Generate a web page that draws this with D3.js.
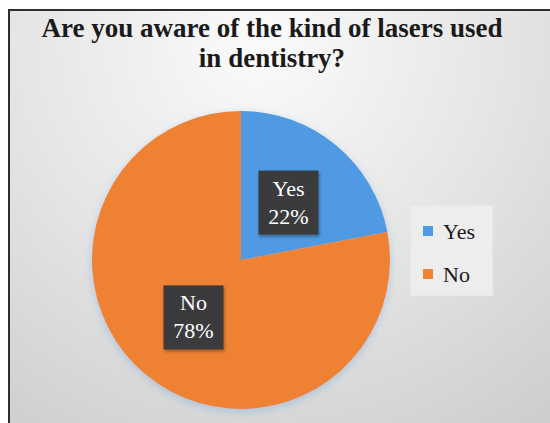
<!DOCTYPE html>
<html>
<head>
<meta charset="utf-8">
<script src="https://cdn.jsdelivr.net/npm/d3@7"></script>
<style>
  html, body { margin: 0; padding: 0; background: #ffffff; }
  svg { display: block; }
  .serif { font-family: "Liberation Serif", Tinos, "Times New Roman", Times, "DejaVu Serif", serif; }
</style>
</head>
<body>
<svg id="chart" width="550" height="423"></svg>
<script>
// Survey answers
const categories = ["Yes", "No"];
const values = [22, 78];
const colors = ["#4F9AE2", "#EF8131"];
const titleLines = ["Are you aware of the kind of lasers used", "in dentistry?"];

const svg = d3.select("#chart");
const defs = svg.append("defs");

// Chart-area background: soft radial grey
const bg = defs.append("radialGradient")
  .attr("id", "bgGrad")
  .attr("gradientUnits", "userSpaceOnUse")
  .attr("cx", 260).attr("cy", 40).attr("r", 520);
bg.append("stop").attr("offset", "0%").attr("stop-color", "#fbfbfb");
bg.append("stop").attr("offset", "45%").attr("stop-color", "#e6e6e6");
bg.append("stop").attr("offset", "100%").attr("stop-color", "#c9c9c9");

const shadow = defs.append("filter").attr("id", "pieShadow")
  .attr("x", "-20%").attr("y", "-20%").attr("width", "140%").attr("height", "140%");
shadow.append("feDropShadow").attr("dx", 0).attr("dy", 3).attr("stdDeviation", 4)
  .attr("flood-color", "#8fb5d8").attr("flood-opacity", 0.6);

const boxShadow = defs.append("filter").attr("id", "boxShadow")
  .attr("x", "-20%").attr("y", "-20%").attr("width", "140%").attr("height", "140%");
boxShadow.append("feDropShadow").attr("dx", 1).attr("dy", 2).attr("stdDeviation", 1.5)
  .attr("flood-color", "#000").attr("flood-opacity", 0.35);

// Frame
svg.append("rect").attr("x", 9).attr("y", 10)
  .attr("width", 570).attr("height", 440)
  .attr("fill", "url(#bgGrad)")
  .attr("stroke", "#2e2e2e").attr("stroke-width", 2);

// Title
const title = svg.append("text")
  .attr("class", "serif")
  .attr("text-anchor", "middle")
  .attr("font-weight", "bold")
  .attr("font-size", 27)
  .attr("fill", "#1a1a1a");
titleLines.forEach((t, i) => {
  title.append("tspan").attr("x", 272).attr("y", 37 + i * 30).text(t);
});

// Pie
const cx = 241, cy = 260, r = 149;
const pie = d3.pie().sort(null).value(d => d.value);
const arcs = pie(categories.map((c, i) => ({ cat: c, value: values[i], color: colors[i] })));
const arc = d3.arc().innerRadius(0).outerRadius(r);

const g = svg.append("g").attr("transform", `translate(${cx},${cy})`);
g.append("g").attr("filter", "url(#pieShadow)")
  .selectAll("path").data(arcs).join("path")
  .attr("d", arc)
  .attr("fill", d => d.data.color);

// Data labels in dark boxes
const bw = 60, bh = 64;
const lbl = g.selectAll("g.lbl").data(arcs).join("g")
  .attr("class", "lbl")
  .attr("transform", d => {
    const [x, y] = arc.centroid(d);
    return `translate(${x},${y})`;
  });
lbl.append("rect")
  .attr("x", -bw / 2).attr("y", -bh / 2)
  .attr("width", bw).attr("height", bh)
  .attr("fill", "#3b3b3d")
  .attr("filter", "url(#boxShadow)");
const lt = lbl.append("text")
  .attr("class", "serif")
  .attr("text-anchor", "middle")
  .attr("font-size", 22)
  .attr("fill", "#ffffff");
lt.append("tspan").attr("x", 0).attr("y", -7).text(d => d.data.cat);
lt.append("tspan").attr("x", 0).attr("y", 21).text(d => d.data.value + "%");

// Legend
const legend = svg.append("g").attr("transform", "translate(410,205)");
legend.append("rect").attr("width", 83).attr("height", 91)
  .attr("fill", "#ededed").attr("stroke", "#e2e2e2");
const items = legend.selectAll("g.item").data(categories).join("g")
  .attr("class", "item")
  .attr("transform", (d, i) => `translate(13,${21 + i * 43})`);
items.append("rect").attr("width", 10).attr("height", 10)
  .attr("fill", (d, i) => colors[i]);
items.append("text").attr("x", 20).attr("y", 13)
  .attr("class", "serif")
  .attr("font-size", 22)
  .attr("fill", "#1a1a1a")
  .text(d => d);
</script>
</body>
</html>
